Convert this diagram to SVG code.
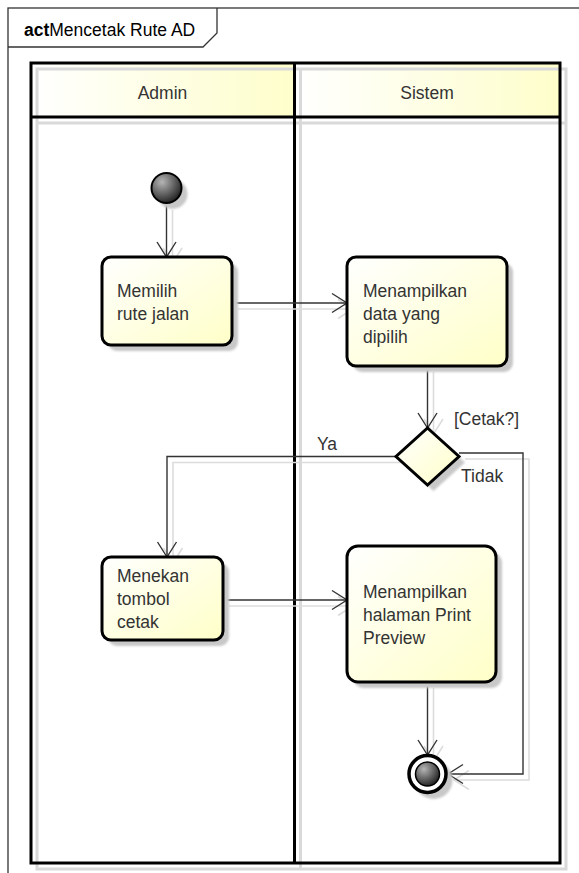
<svg xmlns="http://www.w3.org/2000/svg" width="579" height="873" viewBox="0 0 579 873">
<style>
text{font-family:"Liberation Sans",Arial,sans-serif;font-size:17.5px;fill:#333}
.title{fill:#000}
.bold{font-weight:bold}
.lane{fill:none;stroke:#000;stroke-width:3}
.lshadow{fill:none;stroke:#d9d9d9;stroke-width:3}
.node{fill:url(#nodeGrad);stroke:#000;stroke-width:3}
.nshadow{fill:#c8c8c8;filter:url(#blur)}
.conn{fill:none;stroke:#333;stroke-width:1.4;marker-end:url(#arrow)}
.cshadow{fill:none;stroke:#dcdcdc;stroke-width:1.6;marker-end:url(#arrowS)}
.cshadow.noarrow,.conn.noarrow{marker-end:none}
</style>
<defs>
<linearGradient id="nodeGrad" x1="0" y1="0" x2="1" y2="1">
<stop offset="0" stop-color="#ffffff"/>
<stop offset="1" stop-color="#ffffc8"/>
</linearGradient>
<linearGradient id="headGrad" x1="0" y1="0" x2="1" y2="0">
<stop offset="0" stop-color="#ffffff"/>
<stop offset="1" stop-color="#fefecb"/>
</linearGradient>
<radialGradient id="ballGrad" cx="0.35" cy="0.3" r="0.75">
<stop offset="0" stop-color="#b5b5b5"/>
<stop offset="1" stop-color="#1e1e1e"/>
</radialGradient>
<filter id="blur" x="-10%" y="-10%" width="120%" height="120%">
<feGaussianBlur stdDeviation="1.2"/>
</filter>
<marker id="arrow" markerUnits="userSpaceOnUse" markerWidth="20" markerHeight="24" refX="16" refY="10" orient="auto" viewBox="0 0 20 20">
<path d="M1,0.5 L16,10 L1,19.5" fill="none" stroke="#333" stroke-width="1.4"/>
</marker>
<marker id="arrowS" markerUnits="userSpaceOnUse" markerWidth="20" markerHeight="24" refX="16" refY="10" orient="auto" viewBox="0 0 20 20">
<path d="M1,0.5 L16,10 L1,19.5" fill="none" stroke="#dcdcdc" stroke-width="1.6"/>
</marker>
</defs>

<rect width="579" height="873" fill="#fff"/>

<g id="frame">
<rect x="8" y="8" width="585" height="880" fill="none" stroke="#333" stroke-width="1.3"/>
<path d="M8,47 L203,47 L217,33 L217,8" fill="none" stroke="#333" stroke-width="1.3"/>
<text x="24" y="36" class="title"><tspan class="bold">act</tspan>Mencetak Rute AD</text>
</g>

<g id="swimlanes">
<rect x="31" y="63" width="263.5" height="54" fill="url(#headGrad)"/>
<rect x="294.5" y="63" width="265.5" height="54" fill="url(#headGrad)"/>
<rect x="37" y="69" width="529" height="800" class="lshadow"/>
<line x1="300.5" y1="69" x2="300.5" y2="869" class="lshadow"/>
<line x1="37" y1="123" x2="566" y2="123" class="lshadow"/>
<rect x="31" y="63" width="529" height="800" class="lane"/>
<line x1="294.5" y1="63" x2="294.5" y2="863" class="lane"/>
<line x1="31" y1="117" x2="560" y2="117" class="lane"/>
<g id="lane-admin"><text x="162.5" y="99" text-anchor="middle">Admin</text></g>
<g id="lane-sistem"><text x="427" y="99" text-anchor="middle">Sistem</text></g>
</g>

<g id="connectors">
<g transform="translate(6,6)">
<path class="cshadow" d="M166.5,204 L166.5,257"/>
<path class="cshadow" d="M232,303 L347,303"/>
<path class="cshadow" d="M427.5,366 L427.5,428"/>
<path class="cshadow" d="M396,456.5 L167,456.5 L167,557"/>
<path class="cshadow" d="M459,453 L523,453 L523,774 L448,774"/>
<path class="cshadow" d="M223,600 L347,600"/>
<path class="cshadow" d="M427.5,682 L427.5,755"/>
</g>
<path class="conn" d="M166.5,204 L166.5,257"/>
<path class="conn" d="M232,303 L347,303"/>
<path class="conn" d="M427.5,366 L427.5,428"/>
<path class="conn" d="M396,456.5 L167,456.5 L167,557"/>
<path class="conn" d="M459,453 L523,453 L523,774 L448,774"/>
<path class="conn" d="M223,600 L347,600"/>
<path class="conn" d="M427.5,682 L427.5,755"/>
<text x="454" y="425">[Cetak?]</text>
<text x="317" y="450">Ya</text>
<text x="461" y="482">Tidak</text>
</g>

<g id="start">
<circle cx="172.5" cy="194" r="15" class="nshadow"/>
<circle cx="166.5" cy="188" r="15" fill="url(#ballGrad)" stroke="#000" stroke-width="2"/>
</g>

<g id="memilih">
<rect x="108" y="263" width="130" height="88" rx="9" class="nshadow"/>
<rect x="102" y="257" width="130" height="88" rx="9" class="node"/>
<text x="117" y="297">Memilih</text>
<text x="117" y="320">rute jalan</text>
</g>

<g id="menampilkan-data">
<rect x="353" y="263" width="160" height="109" rx="9" class="nshadow"/>
<rect x="347" y="257" width="160" height="109" rx="9" class="node"/>
<text x="363" y="297">Menampilkan</text>
<text x="363" y="320">data yang</text>
<text x="363" y="343">dipilih</text>
</g>

<g id="decision">
<polygon points="433.5,434 465,462.5 433.5,491 402,462.5" class="nshadow"/>
<polygon points="427.5,428 459,456.5 427.5,485 396,456.5" class="node"/>
</g>

<g id="menekan">
<rect x="108" y="563" width="121" height="83" rx="9" class="nshadow"/>
<rect x="102" y="557" width="121" height="83" rx="9" class="node"/>
<text x="117" y="582">Menekan</text>
<text x="117" y="605">tombol</text>
<text x="117" y="628">cetak</text>
</g>

<g id="menampilkan-preview">
<rect x="353" y="552" width="149" height="136" rx="11" class="nshadow"/>
<rect x="347" y="546" width="149" height="136" rx="11" class="node"/>
<text x="363" y="598">Menampilkan</text>
<text x="363" y="621">halaman Print</text>
<text x="363" y="644">Preview</text>
</g>

<g id="end">
<circle cx="433.5" cy="780" r="19" class="nshadow"/>
<circle cx="427.5" cy="774" r="18.5" fill="#fff" stroke="#000" stroke-width="3.5"/>
<circle cx="427.5" cy="774" r="12" fill="url(#ballGrad)" stroke="#000" stroke-width="1.5"/>
</g>
</svg>
